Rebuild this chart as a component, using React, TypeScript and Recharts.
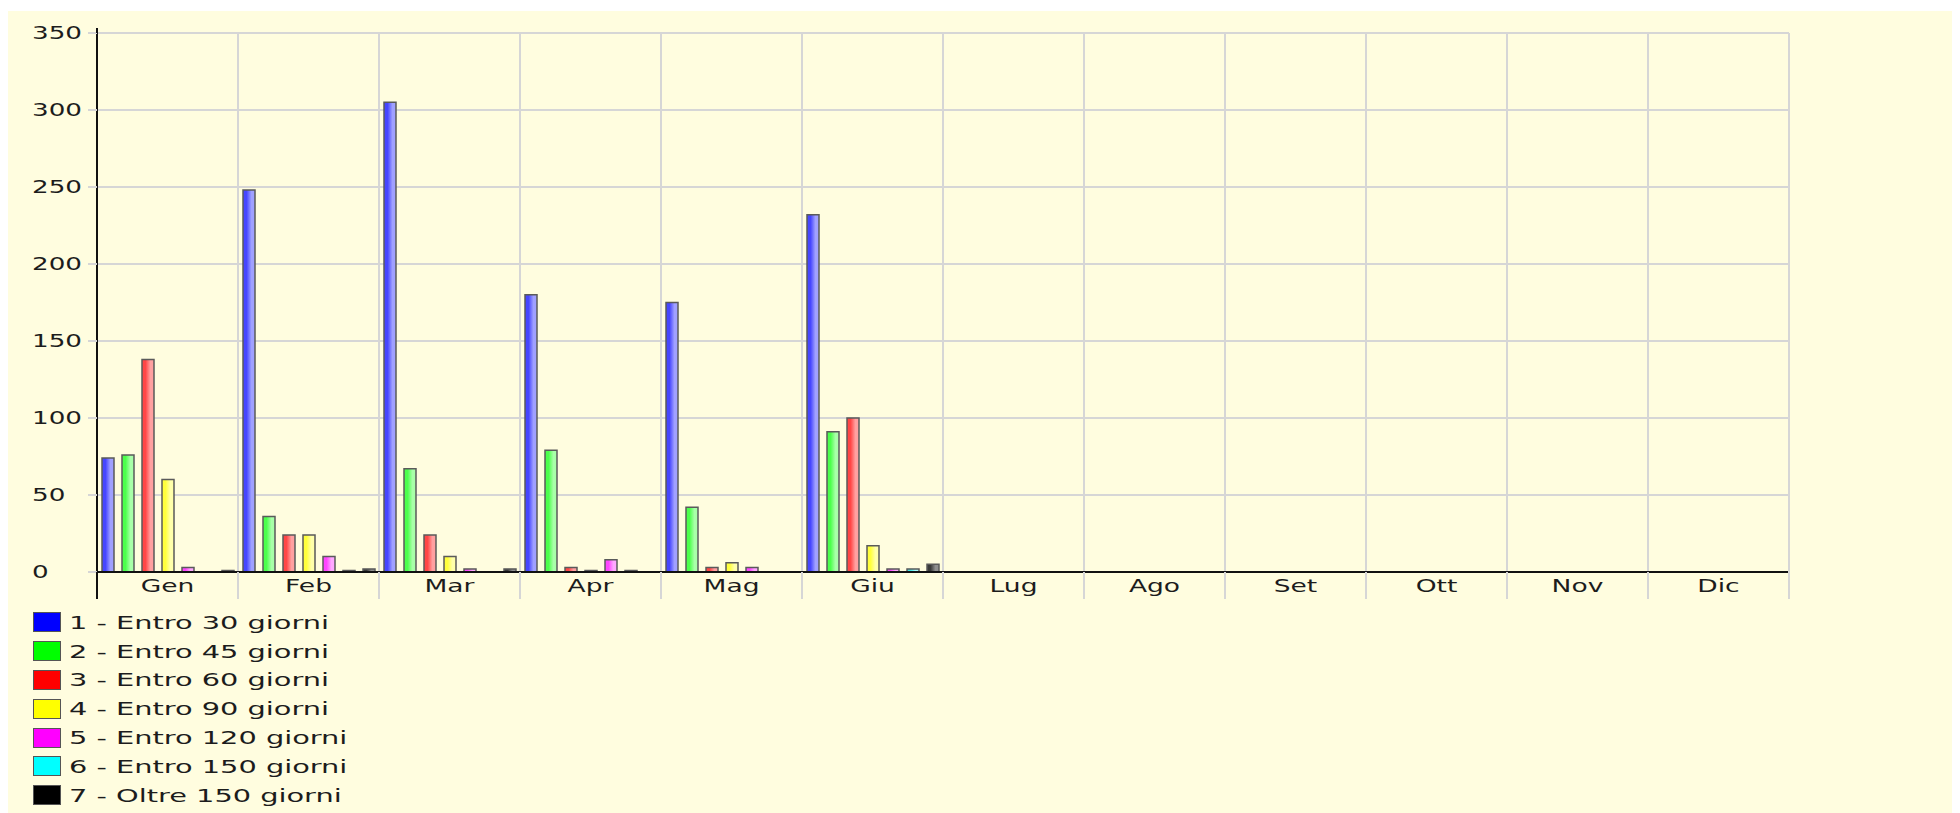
import React from 'react';
import { BarChart, Bar, XAxis, YAxis, CartesianGrid } from 'recharts';

const months = ['Gen', 'Feb', 'Mar', 'Apr', 'Mag', 'Giu', 'Lug', 'Ago', 'Set', 'Ott', 'Nov', 'Dic'];

const entro30 = [74, 248, 305, 180, 175, 232, 0, 0, 0, 0, 0, 0];
const entro45 = [76, 36, 67, 79, 42, 91, 0, 0, 0, 0, 0, 0];
const entro60 = [138, 24, 24, 3, 3, 100, 0, 0, 0, 0, 0, 0];
const entro90 = [60, 24, 10, 1, 6, 17, 0, 0, 0, 0, 0, 0];
const entro120 = [3, 10, 2, 8, 3, 2, 0, 0, 0, 0, 0, 0];
const entro150 = [0, 1, 0, 1, 0, 2, 0, 0, 0, 0, 0, 0];
const oltre150 = [1, 2, 2, 0, 0, 5, 0, 0, 0, 0, 0, 0];

const yTicks = [0, 50, 100, 150, 200, 250, 300, 350];

const seriesNames = [
  '1 - Entro 30 giorni',
  '2 - Entro 45 giorni',
  '3 - Entro 60 giorni',
  '4 - Entro 90 giorni',
  '5 - Entro 120 giorni',
  '6 - Entro 150 giorni',
  '7 - Oltre 150 giorni',
];
const seriesValues = [entro30, entro45, entro60, entro90, entro120, entro150, oltre150];
const legendColors = ['#0000ff', '#00ff00', '#ff0000', '#ffff00', '#ff00ff', '#00ffff', '#000000'];
const barBase = ['#4646ff', '#4cff4c', '#ff4646', '#ffff3c', '#ff46ff', '#3ce8e8', '#3a3a3a'];
const barLight = ['#a0a0ff', '#a8ffa8', '#ffa0a0', '#ffffaa', '#ffa8ff', '#a8ffff', '#8e8e8e'];

const data = months.map((m, i) => {
  const row: Record<string, any> = { month: m };
  seriesValues.forEach((vals, k) => {
    row['s' + k] = vals[i];
  });
  return row;
});

const FONT = '"DejaVu Sans", Verdana, sans-serif';
const TEXT = '#1c1c1c';
const GRID = '#d6d6d6';

const XTick = (props: any) => {
  const { x, y, payload, index, visibleTicksCount, width } = props;
  const half = payload && typeof payload.offset === 'number' && payload.offset > 0
    ? payload.offset
    : width / visibleTicksCount / 2;
  const last = index === visibleTicksCount - 1;
  return (
    <g>
      <line x1={x - half} x2={x - half} y1={y} y2={y + 27}
        stroke={index === 0 ? '#111' : GRID} strokeWidth={2} />
      {last && <line x1={x + half} x2={x + half} y1={y - 2} y2={y + 27} stroke={GRID} strokeWidth={2} />}
      <text transform={`translate(${x},${y + 20}) scale(1.56,1)`} textAnchor="middle"
        fontFamily={FONT} fontSize={17} fill={TEXT}>
        {payload.value}
      </text>
    </g>
  );
};

const YTick = (props: any) => {
  const { x, y, payload, index, visibleTicksCount } = props;
  const top = index === visibleTicksCount - 1;
  return (
    <g>
      {top && <line x1={x + 9} x2={x + 9} y1={y - 5} y2={y} stroke="#111" strokeWidth={2} />}
      <text transform={`translate(${x - 56},${y + 6}) scale(1.54,1)`} textAnchor="start"
        fontFamily={FONT} fontSize={17} fill={TEXT}>
        {payload.value}
      </text>
    </g>
  );
};

const verticalGen = ({ offset }: any) =>
  months.map((_, i) => offset.left + (i * offset.width) / months.length)
    .concat([offset.left + offset.width]);

export default function App() {
  return (
    <div style={{ position: 'relative', marginTop: 3, width: 1952, height: 802, background: '#fffddf' }}>
      <BarChart width={1952} height={600} data={data} barSize={12} barGap={8}
        margin={{ top: 22, right: 171, bottom: 9, left: 29 }}>
        <defs>
          {barBase.map((c, k) => (
            <linearGradient key={k} id={'g' + k} x1="0" y1="0" x2="1" y2="0">
              <stop offset="0%" stopColor={c} />
              <stop offset="30%" stopColor={c} />
              <stop offset="70%" stopColor={barLight[k]} />
              <stop offset="100%" stopColor={barLight[k]} />
            </linearGradient>
          ))}
        </defs>
        <CartesianGrid stroke={GRID} strokeWidth={2} verticalCoordinatesGenerator={verticalGen} />
        <XAxis dataKey="month" type="category" height={30} tickSize={0} tickMargin={0}
          tickLine={false} axisLine={{ stroke: '#111', strokeWidth: 2 }} tick={<XTick />} interval={0} />
        <YAxis domain={[0, 350]} ticks={yTicks} width={60} tickSize={9} tickMargin={0}
          tickLine={{ stroke: GRID, strokeWidth: 2 }} axisLine={{ stroke: '#111', strokeWidth: 2 }}
          tick={<YTick />} interval={0} allowDataOverflow />
        {seriesNames.map((name, k) => (
          <Bar key={k} dataKey={'s' + k} name={name} fill={`url(#g${k})`}
            stroke="#5a5a5a" strokeWidth={1.5} isAnimationActive={false} />
        ))}
      </BarChart>
      <div style={{ position: 'absolute', left: 25, top: 597, fontFamily: FONT, fontSize: 18, color: TEXT }}>
        {seriesNames.map((name, k) => (
          <div key={k} style={{ display: 'flex', alignItems: 'center', height: 28.8 }}>
            <div style={{ width: 26, height: 18, background: legendColors[k], border: '1px solid #555', boxSizing: 'content-box', flex: 'none' }} />
            <div style={{ marginLeft: 8, transform: 'scaleX(1.6)', transformOrigin: 'left center', whiteSpace: 'nowrap' }}>{name}</div>
          </div>
        ))}
      </div>
    </div>
  );
}
